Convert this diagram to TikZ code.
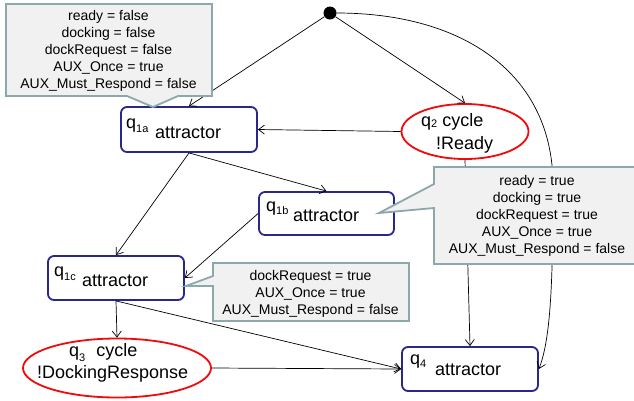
\documentclass[tikz,border=0pt]{standalone}
\usepackage{fontspec}
\setmainfont{Liberation Sans}
\usetikzlibrary{arrows.meta,shapes.geometric}
\definecolor{boxline}{RGB}{40,40,140}
\definecolor{cycleline}{RGB}{240,10,10}
\definecolor{notefill}{RGB}{241,241,241}
\definecolor{noteline}{RGB}{140,168,170}
% state name: q with a lowered index (index, drop in pt)
\newcommand\statelabel[2]{q\raisebox{-#2pt}{\fontsize{11}{11}\selectfont #1}}
\begin{document}
\begin{tikzpicture}[x=1pt,y=-1pt,
  state/.style={draw=boxline, line width=1.8pt, fill=white, rounded corners=6pt,
    minimum width=136pt, minimum height=44pt, inner sep=0pt},
  cyc/.style={ellipse, draw=cycleline, line width=1.8pt, fill=white, inner sep=0pt},
  arr/.style={-{Straight Barb[length=6pt,width=9pt]}, line width=0.7pt},
  note/.style={fill=notefill, draw=noteline, line width=1.8pt, line join=miter},
  notetext/.style={font=\fontsize{14}{16.9}\selectfont, align=center, inner sep=0pt},
  big/.style={font=\fontsize{18}{21}\selectfont, inner sep=0pt, anchor=base west}]
\useasboundingbox (0,0) rectangle (634,400);

% states
\node[state, minimum height=45pt] (q1a) at (189,129.5) {};
\node[state, minimum width=135pt, minimum height=43pt] (q1b) at (326.5,213.5) {};
\node[state] (q1c) at (116,278) {};
\node[state] (q4) at (470,369) {};
\node[cyc, minimum width=127pt, minimum height=55pt] (q2) at (465,131.5) {};
\node[cyc, minimum width=188pt, minimum height=59pt] (q3) at (117,368) {};
\node[circle, fill=black, minimum size=13pt, inner sep=0pt] (init) at (330,13) {};

% state texts
\node[big] (q1a-name) at (126,128) {\statelabel{1a}{4}};
\node[big] (q1a-kind) at (155,138) {attractor};
\node[big] (q1b-name) at (266,211) {\statelabel{1b}{3}};
\node[big] (q1b-kind) at (293,221) {attractor};
\node[big] (q1c-name) at (54,276) {\statelabel{1c}{4}};
\node[big] (q1c-kind) at (82,286) {attractor};
\node[big] (q4-name) at (410,364) {\statelabel{4}{3}};
\node[big] (q4-kind) at (435,375) {attractor};
\node[big] (q2-name) at (421,126) {\statelabel{2}{1.5}\hspace{5pt}cycle};
\node[big] (q2-cond) at (436,149) {!Ready};
\node[big] (q3-name) at (69,356) {\statelabel{3}{5}\hspace{11pt}cycle};
\node[big] (q3-cond) at (37,378) {!DockingResponse};

% transitions
\draw[arr] (init) -- (q1a.north);
\draw[arr] (init) -- (q2.north);
\draw[arr] (init.east) .. controls (465,13) and (553,75) .. (553,185)
  .. controls (553,290) and (550,340) .. (q4.east);
\draw[arr] (q2.west) -- (q1a.east);
\draw[arr] (q1a.south) -- (q1b.north);
\draw[arr] (q1a.south) -- (q1c.north);
\draw[arr] (q1b.west) -- (q1c.east);
\draw[arr] (q1c.south) -- (q3.north);
\draw[arr] (q1c.south) -- (q4.west);
\draw[arr] (q3.east) -- (q4.west);
\draw[arr] (q2.south) -- (q4.north);

% annotation callouts
\draw[note] (6,4) -- (212,4) -- (212,96) -- (178,96) -- (153,107) -- (127,96)
  -- (6,96) -- cycle;
\node[notetext] (n1) at (108.5,51) {ready = false\\docking = false\\dockRequest = false\\AUX\_Once = true\\AUX\_Must\_Respond = false};

\draw[note] (434,167) -- (640,167) -- (640,264) -- (434,264) -- (434,208)
  -- (379,213) -- (434,184) -- cycle;
\node[notetext] (n2) at (537,216) {ready = true\\docking = true\\dockRequest = true\\AUX\_Once = true\\AUX\_Must\_Respond = false};

\draw[note] (213,263) -- (409,263) -- (409,321) -- (213,321) -- (213,286)
  -- (186,286) -- (213,276) -- cycle;
\node[notetext] (n3) at (310.5,293.5) {dockRequest = true\\AUX\_Once = true\\AUX\_Must\_Respond = false};
\end{tikzpicture}
\end{document}
